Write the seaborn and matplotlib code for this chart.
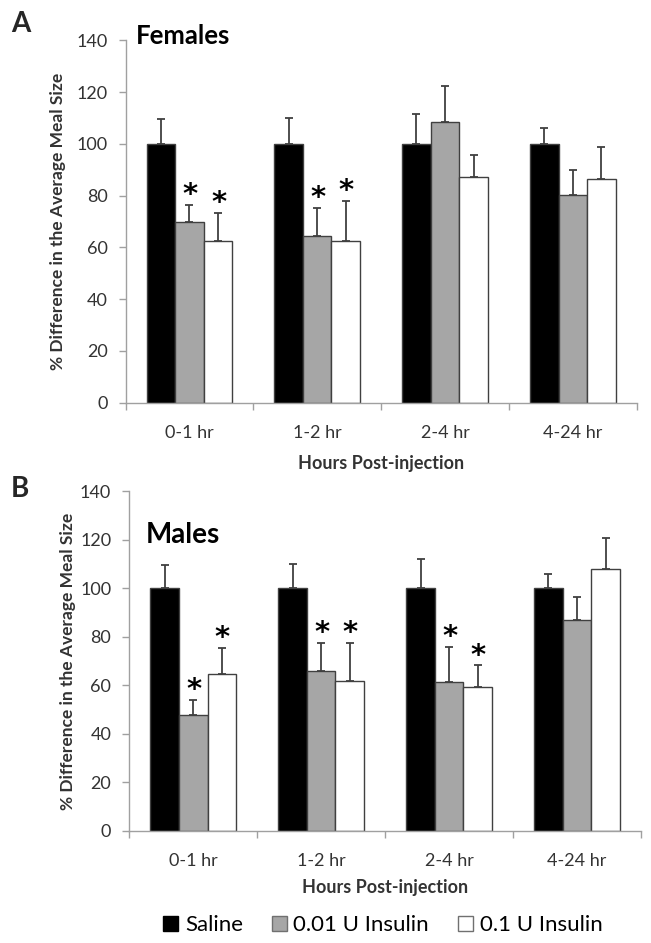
import matplotlib
matplotlib.use("Agg")
import matplotlib.pyplot as plt
import numpy as np
import pandas as pd
import seaborn as sns
from matplotlib.patches import Patch

# ---- data ----
periods = ["0-1 hr", "1-2 hr", "2-4 hr", "4-24 hr"]
groups = ["Saline", "0.01 U Insulin", "0.1 U Insulin"]

fem_saline = [100, 100, 100, 100]
fem_low = [69.9, 64.3, 108.3, 80.1]
fem_high = [62.5, 62.5, 87.1, 86.3]
fem_saline_sem = [9.6, 10.1, 11.7, 6.0]
fem_low_sem = [6.5, 11.1, 14.2, 9.7]
fem_high_sem = [10.7, 15.6, 8.7, 12.6]
fem_low_star = [True, True, False, False]
fem_high_star = [True, True, False, False]

male_saline = [100, 100, 100, 100]
male_low = [47.7, 66.0, 61.5, 86.8]
male_high = [64.6, 61.6, 59.4, 108.0]
male_saline_sem = [9.4, 10.0, 11.9, 5.7]
male_low_sem = [6.3, 11.3, 14.4, 9.4]
male_high_sem = [10.8, 15.8, 8.8, 12.6]
male_low_star = [True, True, True, False]
male_high_star = [True, True, True, False]

colors = ["black", "#a6a6a6", "white"]
edge = "#404040"
axis_grey = "#a0a0a0"
text_grey = "#333333"

sns.set_theme(style="white")
plt.rcParams["font.family"] = ["Lato", "DejaVu Sans"]


def make_frame(means, sems):
    rows = []
    for g, m, s in zip(groups, means, sems):
        for p, v, e in zip(periods, m, s):
            rows.append({"period": p, "group": g, "value": v, "sem": e})
    return pd.DataFrame(rows)


def draw_panel(ax, df, stars, title, title_xy, title_size, ylab_x):
    sns.barplot(data=df, x="period", y="value", hue="group", order=periods,
                hue_order=groups, palette=colors, width=0.67, errorbar=None,
                edgecolor=edge, linewidth=1.0, legend=False, ax=ax)

    bar_sets = list(ax.containers)[:len(groups)]
    for gi, cont in enumerate(bar_sets):
        sub = df[df["group"] == groups[gi]].set_index("period").loc[periods]
        for pi, bar in enumerate(cont):
            xc = bar.get_x() + bar.get_width() / 2
            top = bar.get_height()
            err = sub["sem"].iloc[pi]
            ax.errorbar(xc, top, yerr=[[0], [err]], fmt="none", ecolor=edge,
                        elinewidth=1.3, capsize=2.8, capthick=1.3, zorder=1)
            if stars[gi][pi]:
                ax.annotate("*", xy=(xc, top + err), xytext=(0.5, -3),
                            textcoords="offset points", ha="center", va="bottom",
                            fontsize=21, fontweight="bold", color="black",
                            family=["DejaVu Sans"])

    ax.set_ylim(0, 140)
    ax.set_xlim(-0.5, 3.5)
    ax.set_yticks(np.arange(0, 141, 20))
    ax.set_xticks(np.arange(-0.5, 3.6, 1), minor=True)
    ax.tick_params(axis="x", which="major", length=0, pad=16, labelsize=13,
                   labelcolor=text_grey)
    ax.tick_params(axis="x", which="minor", length=5, width=1, color=axis_grey,
                   direction="out", bottom=True)
    ax.tick_params(axis="y", length=5, width=1, color=axis_grey, direction="out",
                   left=True, pad=8, labelsize=13, labelcolor=text_grey)
    sns.despine(ax=ax)
    for side in ["left", "bottom"]:
        ax.spines[side].set_color(axis_grey)
        ax.spines[side].set_linewidth(1.0)

    ax.set_ylabel("% Difference in the Average Meal Size", fontsize=12.5,
                  fontweight="bold", color=text_grey)
    ax.yaxis.set_label_coords(ylab_x, 0.5)
    ax.yaxis.label.set_va("center")
    ax.set_xlabel("Hours Post-injection", fontsize=13, fontweight="bold",
                  color=text_grey)
    ax.xaxis.label.set_va("center")
    ax.text(title_xy[0], title_xy[1], title, transform=ax.figure.transFigure,
            fontsize=title_size, fontweight="bold", color="black", va="baseline")


fig = plt.figure(figsize=(6.51, 9.43), dpi=100)
ax_f = fig.add_axes([0.1928, 0.5730, 0.7853, 0.3841])
ax_m = fig.add_axes([0.1986, 0.1188, 0.7860, 0.3605])

df_f = make_frame([fem_saline, fem_low, fem_high],
                  [fem_saline_sem, fem_low_sem, fem_high_sem])
df_m = make_frame([male_saline, male_low, male_high],
                  [male_saline_sem, male_low_sem, male_high_sem])

no_star = [False] * 4
draw_panel(ax_f, df_f, [no_star, fem_low_star, fem_high_star], "Females",
           (136 / 651, 1 - 44 / 943), 18.5, -0.132)
draw_panel(ax_m, df_m, [no_star, male_low_star, male_high_star], "Males",
           (146 / 651, 1 - 543 / 943), 20, -0.119)
ax_f.xaxis.set_label_coords(0.5, -0.169)
ax_m.xaxis.set_label_coords(0.5, -0.165)

fig.text(11 / 651, 1 - 32 / 943, "A", fontsize=20, fontweight="bold", va="baseline")
fig.text(11 / 651, 1 - 497 / 943, "B", fontsize=20, fontweight="bold", va="baseline")

handles = [Patch(facecolor=c, edgecolor=ec, linewidth=1.0)
           for c, ec in zip(colors, ["black", "#707070", "#707070"])]
fig.legend(handles, groups, loc="center", bbox_to_anchor=(0.588, 0.019), ncol=3,
           frameon=False, fontsize=16, handlelength=0.68, handleheight=0.68,
           handletextpad=0.3, columnspacing=1.3, borderpad=0, labelcolor="black")

fig.savefig("out.png", dpi=100)
